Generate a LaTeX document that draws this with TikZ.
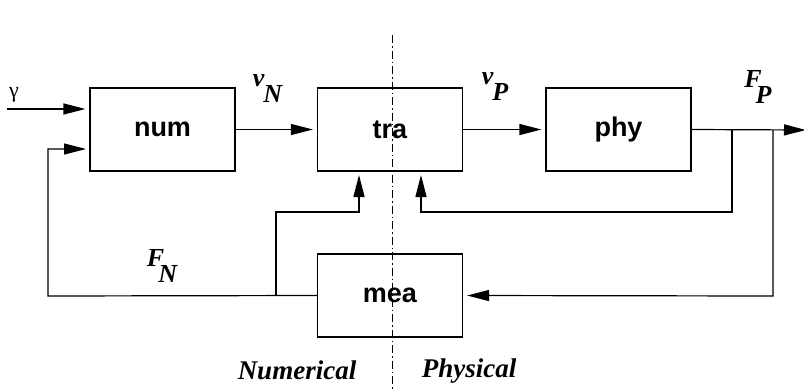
\documentclass[tikz,border=0pt]{standalone}
\usepackage{fontspec}
\setmainfont{Liberation Serif}
\setsansfont{Liberation Sans}
\usetikzlibrary{arrows.meta}
\tikzset{
  blk/.style={draw, line width=1.2pt, minimum width=145pt, minimum height=83pt, inner sep=0pt,
    font=\sffamily\bfseries\fontsize{27}{30}\selectfont},
  wire/.style={line width=1.2pt},
  arr/.style={wire, -{Triangle[length=22pt,width=11pt]}, shorten >=4pt},
  var/.style={font=\bfseries\itshape\fontsize{26}{28}\selectfont, inner sep=0pt},
  dom/.style={font=\bfseries\itshape\fontsize{27}{30}\selectfont, inner sep=0pt},
  sep/.style={line width=0.8pt, dash pattern=on 8pt off 3pt on 1.5pt off 3pt}
}
\newcommand{\sbs}[3]{#1\kern#3\raisebox{-16pt}{#2}}
\begin{document}
\begin{tikzpicture}[x=1pt,y=-1pt]
\useasboundingbox (0,0) rectangle (804,389);
\node[blk] (num) at (162.5,129.5) {num};
\node[blk] (tra) at (390,129.5) {tra};
\node[blk] (phy) at (618.5,129.5) {phy};
\node[blk] (mea) at (390,295.5) {mea};
% coordinates
\coordinate (gin) at (7,109);
\coordinate (out) at (806,130);
\coordinate (b1) at (732,130);
\coordinate (b1c) at (732,212);
\coordinate (b2) at (773,130);
\coordinate (b2c) at (773,296);
\coordinate (trar) at (421,171);
\coordinate (tral) at (359,171);
\coordinate (fl) at (48,296);
\coordinate (fin) at (90,149);
\coordinate (j) at (276,296);
\coordinate (jc) at (276,212);
\coordinate (st) at (392,35);
\coordinate (sb) at (392,389);
% connectors
\draw[arr] (gin) -- (gin -| num.west);
\draw[arr] (num.east) -- (tra.west);
\draw[arr] (tra.east) -- (phy.west);
\draw[wire, -{Triangle[length=22pt,width=11pt]}] (phy.east) -- (out);
\draw[arr] (b1) -- (b1c) -| (trar);
\draw[arr] (b2) -- (b2c) -- (mea.east);
\draw[arr] (mea.west) -- (fl) |- (fin);
\draw[arr] (j) -- (jc) -| (tral);
\draw[sep] (st) -- (sb);
% labels
\node[font=\fontsize{22}{24}\selectfont, inner sep=0pt] (g) at (14,95) {γ};
\node[var] (vn) at (267.5,88.5) {\sbs{v}{N}{-1pt}};
\node[var] (vp) at (495,87) {\sbs{v}{P}{-1pt}};
\node[var] (fp) at (758,87) {\sbs{F}{P}{-6pt}};
\node[var] (fn) at (162,266) {\sbs{F}{N}{-6pt}};
\node[dom] (nm) at (297,370) {Numerical};
\node[dom] (ph) at (469,371) {Physical};
\end{tikzpicture}
\end{document}
